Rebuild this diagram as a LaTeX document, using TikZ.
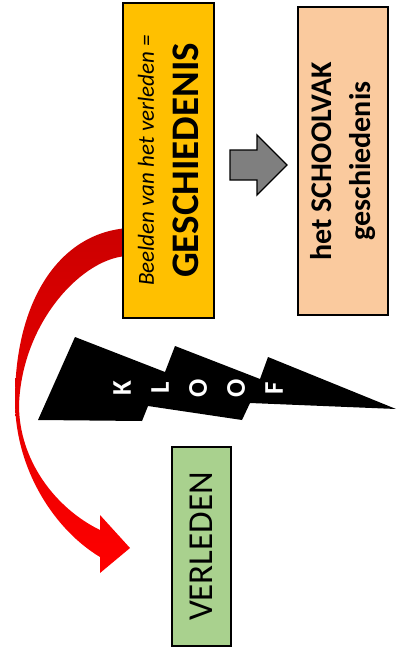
\documentclass[tikz,border=0pt]{standalone}
\usepackage{fontspec}
\setmainfont{Carlito}
\definecolor{geelvak}{HTML}{FFC000}
\definecolor{perzikvak}{RGB}{250,202,158}
\definecolor{groenvak}{HTML}{A9D18E}
\definecolor{grijspijl}{HTML}{7F7F7F}
\definecolor{donkerrood}{RGB}{204,0,0}
\tikzset{
    vak/.style={draw=black, line width=1.3pt, rotate=90, align=center, inner sep=0pt},
    kloofletter/.style={text=white, font=\bfseries\fontsize{27}{27}\selectfont, rotate=90, inner sep=0pt}
}

\begin{document}
\begin{tikzpicture}[x=1pt, y=-1pt]
     \useasboundingbox (0,0) rectangle (396,650);

     % rode boog
     \shade [top color=donkerrood, bottom color=red]
        (129,228) .. controls (60,232) and (15,300) .. (15,400)
        .. controls (15,470) and (55,530) .. (100,557)
        -- (100,573) -- (130,548) -- (100,515) -- (100,530)
        .. controls (55,508) and (19,460) .. (19,405)
        .. controls (22,320) and (85,256) .. (129,256) -- cycle;

     % vakken
     \node [vak, fill=geelvak, minimum width=315pt, minimum height=91pt,
            font=\fontsize{39}{45}\selectfont] (beelden) at (168.5,160.5)
        {{\itshape\fontsize{23}{28}\selectfont Beelden van het verleden =}\\\bfseries GESCHIEDENIS};
     \node [vak, fill=perzikvak, minimum width=308pt, minimum height=90pt,
            font=\bfseries\fontsize{30}{39}\selectfont] (schoolvak) at (343,161)
        {het SCHOOLVAK\\geschiedenis};
     \node [vak, fill=groenvak, minimum width=199pt, minimum height=59pt,
            font=\fontsize{35}{35}\selectfont] (verleden) at (201.5,546.5) {VERLEDEN};

     % grijze pijl
     \draw [fill=grijspijl, line width=1.3pt, line join=miter]
        (230,150) -- (257,150) -- (257,135) -- (287,165) -- (257,195)
        -- (257,180) -- (230,180) -- cycle;

     % bliksem
     \fill [black] (75,337) -- (38,420) -- (142,421) -- (148,406) -- (242,420)
        -- (250,403) -- (396,409) -- (268,357) -- (260,379) -- (175,346)
        -- (165,372) -- cycle;
     \foreach \l [count=\i] in {K,L,O,O,F}
        \node [kloofletter] (kloof\i) at ({84+38*\i},388) {\l};
\end{tikzpicture}
\end{document}
